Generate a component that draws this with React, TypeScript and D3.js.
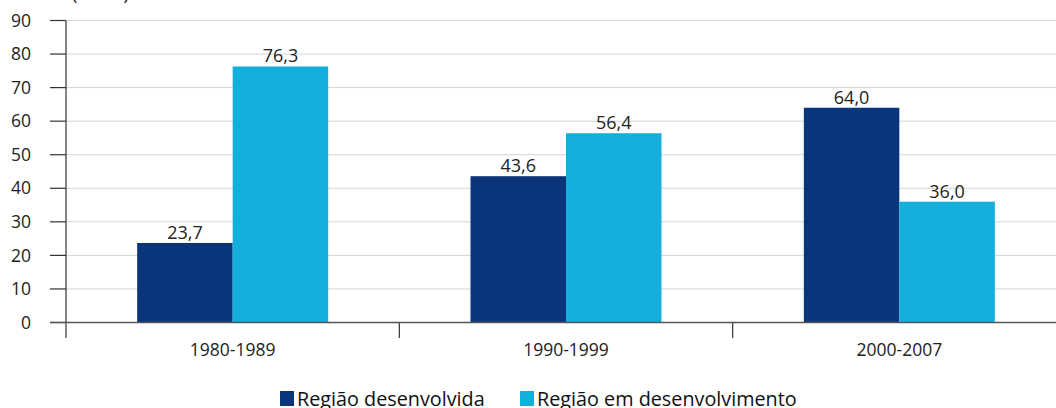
import React from 'react'
import * as d3 from 'd3'

const periods = ['1980-1989', '1990-1999', '2000-2007']
const desenvolvida = [23.7, 43.6, 64.0]
const emDesenvolvimento = [76.3, 56.4, 36.0]
const seriesNames = ['Região desenvolvida', 'Região em desenvolvimento']
const colors = ['#0b357a', '#14aedc']
const yTicks = [0, 10, 20, 30, 40, 50, 60, 70, 80, 90]

const W = 1056
const H = 408
const left = 66
const top = 20.5
const bottom = 322.5
const font = '"Open Sans", "Noto Sans", sans-serif'

function App() {
  const x = d3.scaleBand().domain(periods).range([left, 1066]).paddingInner(0).paddingOuter(0)
  const y = d3.scaleLinear().domain([0, 90]).range([bottom, top])
  const inner = d3.scaleBand().domain(['0', '1']).range([0, 191]).padding(0)
  const offset = (x.bandwidth() - 191) / 2
  const fmt = (v: number) => v.toFixed(1).replace('.', ',')
  const series = [desenvolvida, emDesenvolvimento]

  return (
    <svg width={W} height={H} style={{ position: 'absolute', left: 0, top: 0, background: '#fff' }} fontFamily={font}>
      <text x={72} y={0} fontSize={18} fill="#222">(Em %)</text>
      {yTicks.map(t => (
        <g key={t}>
          {t > 0 && <line x1={left} x2={W} y1={y(t)} y2={y(t)} stroke="#d4d4d4" strokeWidth={1} />}
          <line x1={50} x2={left} y1={y(t)} y2={y(t)} stroke="#333" strokeWidth={1.2} />
          <text x={31} y={y(t)} dy="0.35em" textAnchor="end" fontSize={17.5} fill="#222">{t}</text>
        </g>
      ))}
      {periods.map((p, i) => (
        <g key={p}>
          {series.map((s, j) => {
            const bx = (x(p) as number) + offset + (inner(String(j)) as number)
            return (
              <g key={j}>
                <rect x={bx} y={y(s[i])} width={inner.bandwidth()} height={bottom - y(s[i])} fill={colors[j]} />
                <text x={bx + inner.bandwidth() / 2} y={y(s[i]) - 4} textAnchor="middle" fontSize={18} fill="#222">{fmt(s[i])}</text>
              </g>
            )
          })}
          <text x={(x(p) as number) + x.bandwidth() / 2} y={356} textAnchor="middle" fontSize={17.5} fill="#222">{p}</text>
        </g>
      ))}
      <line x1={left} x2={left} y1={top} y2={338} stroke="#333" strokeWidth={1.2} />
      {periods.slice(1).map(p => (
        <line key={p} x1={x(p) as number} x2={x(p) as number} y1={bottom} y2={338} stroke="#333" strokeWidth={1.2} />
      ))}
      <line x1={50} x2={W} y1={bottom} y2={bottom} stroke="#555" strokeWidth={1.5} />
      {seriesNames.map((n, j) => (
        <g key={n} transform={`translate(${j === 0 ? 280 : 520},0)`}>
          <rect x={0} y={391} width={14} height={15} fill={colors[j]} />
          <text x={17} y={406} fontSize={19.8} fill="#111">{n}</text>
        </g>
      ))}
    </svg>
  )
}

export default App
